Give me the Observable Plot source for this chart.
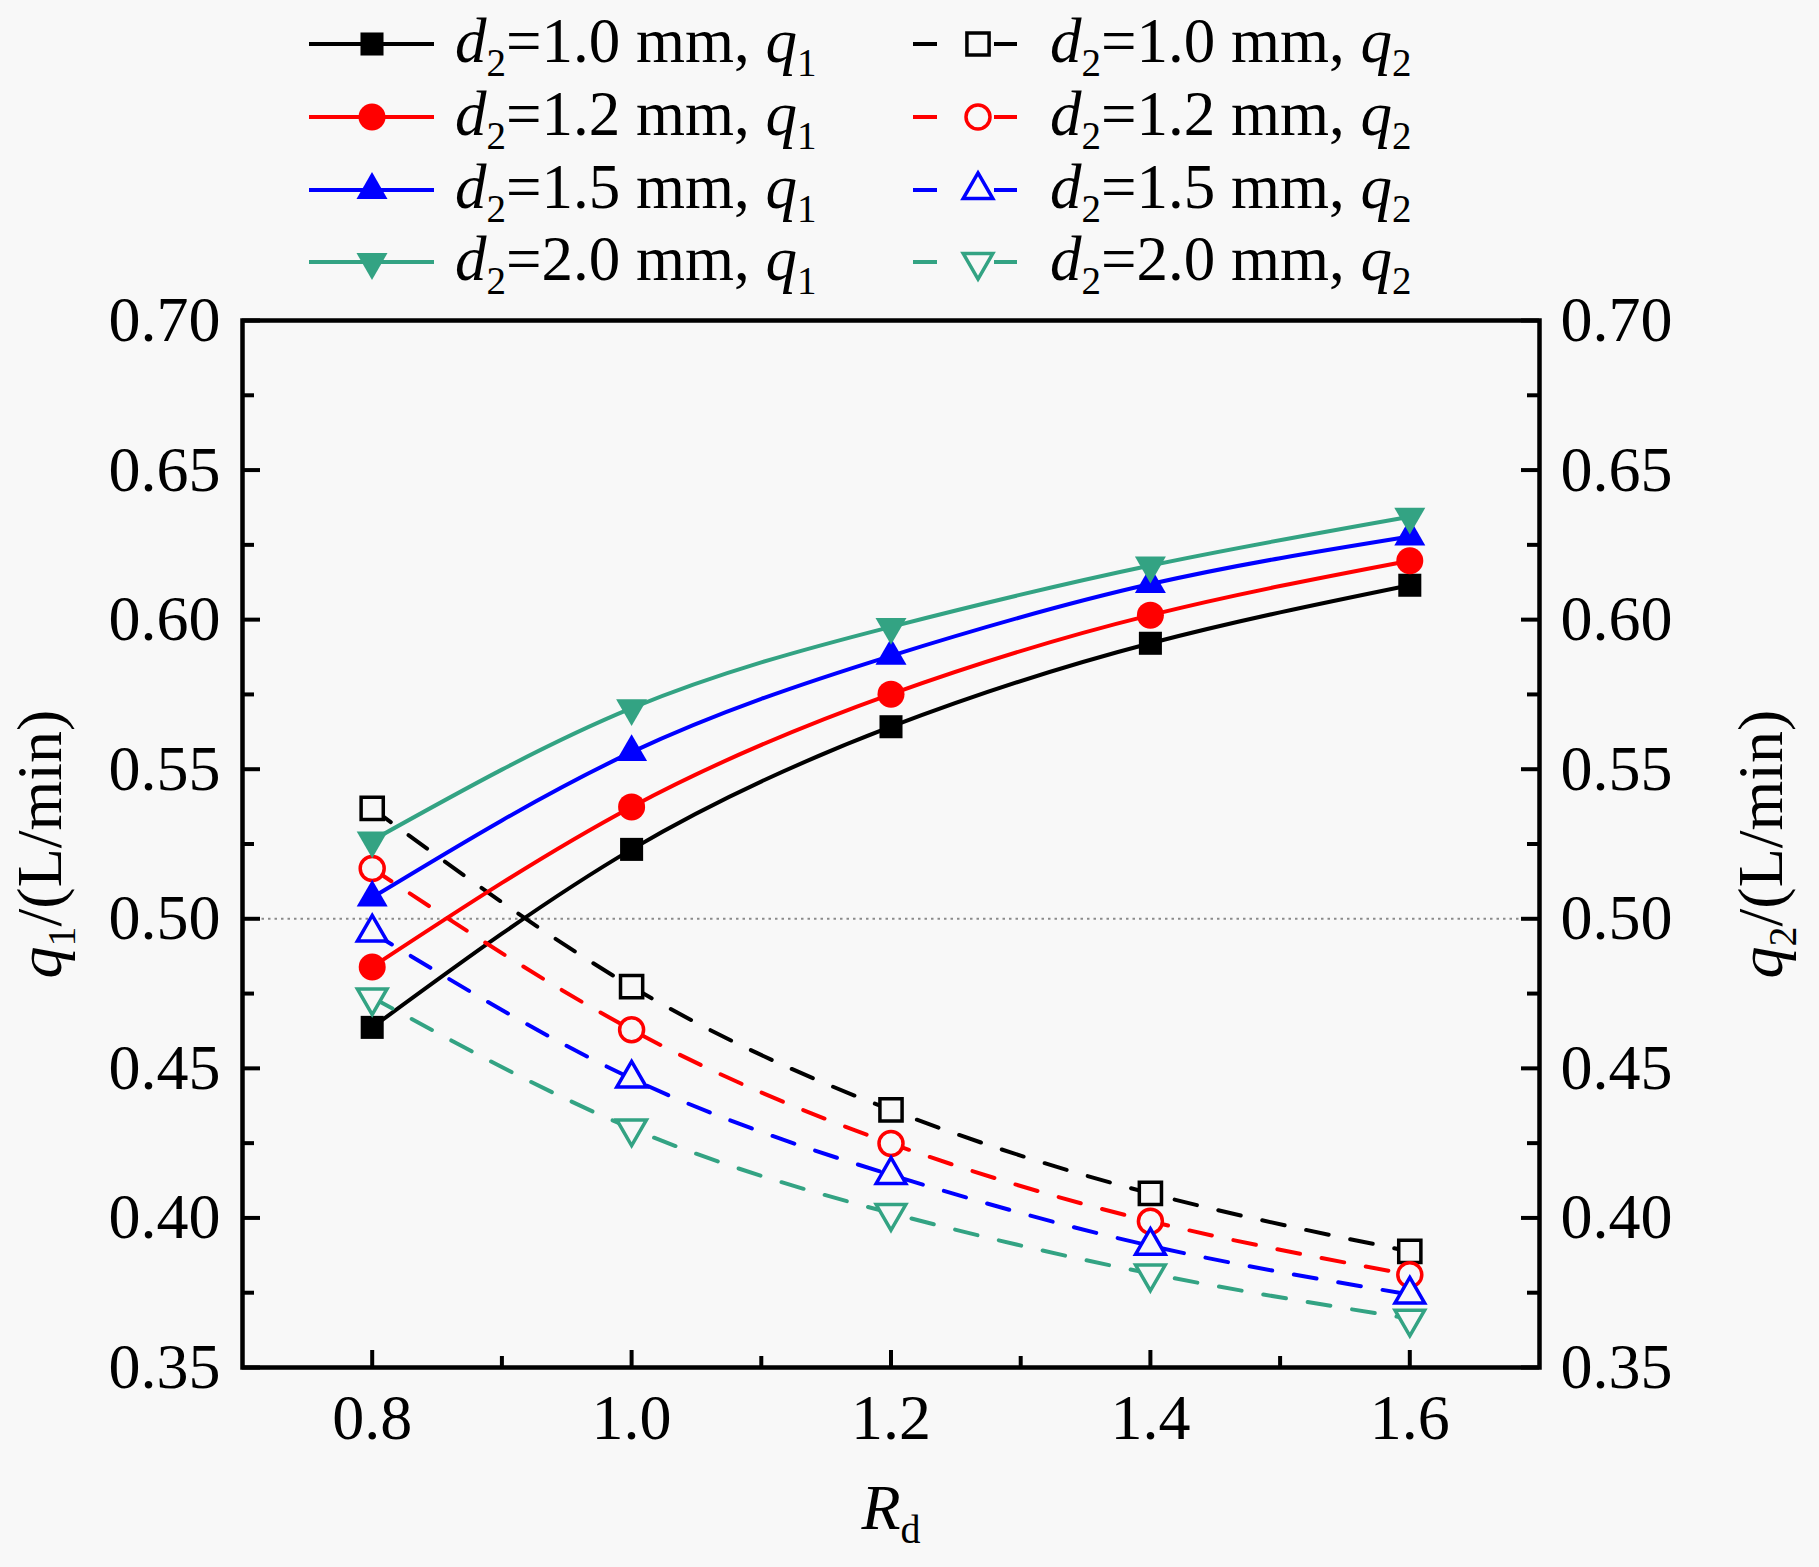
<!DOCTYPE html>
<html><head><meta charset="utf-8">
<script src="https://cdn.jsdelivr.net/npm/d3@7"></script>
<script src="https://cdn.jsdelivr.net/npm/@observablehq/plot@0.6"></script>
<style>
html,body{margin:0;padding:0;background:#f8f8f8;}
#wrap{width:1819px;height:1567px;position:relative;overflow:hidden;font-family:"Liberation Serif","Times New Roman",serif;}
#legend{display:block;overflow:visible;}
#chart svg{display:block;}
text{white-space:pre;}
</style></head><body><div id="wrap"><svg id="legend" width="1819" height="305"></svg><div id="chart"></div></div>
<script>
// ---- data ----
const Rd = [0.8, 1.0, 1.2, 1.4, 1.6];
const d2Labels = ["1.0", "1.2", "1.5", "2.0"];
const q1_d10 = [0.4637, 0.5232, 0.5642, 0.5921, 0.6115];
const q1_d12 = [0.4839, 0.5374, 0.5751, 0.6015, 0.6197];
const q1_d15 = [0.5071, 0.5557, 0.5879, 0.6119, 0.6278];
const q1_d20 = [0.5262, 0.5704, 0.5976, 0.6181, 0.6344];
const q2_d10 = [0.5369, 0.4773, 0.4361, 0.4082, 0.3888];
const q2_d12 = [0.5168, 0.4629, 0.4249, 0.3989, 0.3810];
const q2_d15 = [0.4954, 0.4466, 0.4144, 0.3907, 0.3744];
const q2_d20 = [0.4737, 0.4299, 0.4016, 0.3814, 0.3663];
const yTicks = [0.35, 0.40, 0.45, 0.50, 0.55, 0.60, 0.65, 0.70];
const yMinor = [0.375, 0.425, 0.475, 0.525, 0.575, 0.625, 0.675];
const xTicks = [0.8, 1.0, 1.2, 1.4, 1.6];
const xMinor = [0.9, 1.1, 1.3, 1.5];
const refLine = [0.50];
const colors = ["#000000", "#ff0000", "#0000ff", "#33a383"];

const q1s = [q1_d10, q1_d12, q1_d15, q1_d20];
const q2s = [q2_d10, q2_d12, q2_d15, q2_d20];
const BG = "#f8f8f8";

const sqrt3 = Math.sqrt(3);
const triangleDown = {draw(ctx, size) {
  const y = -Math.sqrt(size / (sqrt3 * 3));
  ctx.moveTo(0, -y * 2);
  ctx.lineTo(-sqrt3 * y, y);
  ctx.lineTo(sqrt3 * y, y);
  ctx.closePath();
}};
const symbols = ["square", "circle", "triangle", triangleDown];
const d3symbols = [d3.symbolSquare, d3.symbolCircle, d3.symbolTriangle, triangleDown];
const rFilled = [13, 13.5, 11.5, 11.5];
const rOpen = [12.5, 12, 11, 11];

const rows = vals => Rd.map((x, j) => ({Rd: x, q: vals[j]}));

const W = 1819, H = 1262, ML = 242, MR = 280, MT = 15, MB = 200;
const FW = W - ML - MR, FH = H - MT - MB;
const FS = 64;
const LW = 4;

const lineMarks = [], dotMarks = [];
for (let i = 0; i < 4; i++) {
  lineMarks.push(Plot.line(rows(q1s[i]), {x: "Rd", y: "q", stroke: colors[i], strokeWidth: LW, curve: "natural"}));
  lineMarks.push(Plot.line(rows(q2s[i]), {x: "Rd", y: "q", stroke: colors[i], strokeWidth: LW, curve: "natural", strokeDasharray: "23,22"}));
}
for (let i = 0; i < 4; i++) {
  dotMarks.push(Plot.dot(rows(q2s[i]), {x: "Rd", y: "q", symbol: symbols[i], r: rOpen[i], fill: BG, stroke: colors[i], strokeWidth: 3.5}));
  dotMarks.push(Plot.dot(rows(q1s[i]), {x: "Rd", y: "q", symbol: symbols[i], r: rFilled[i], fill: colors[i], stroke: "none"}));
}

const plot = Plot.plot({
  width: W, height: H,
  marginLeft: ML, marginRight: MR, marginTop: MT, marginBottom: MB,
  style: {background: "transparent", fontFamily: "'Liberation Serif','Times New Roman',serif", fontSize: FS + "px", color: "#000", overflow: "visible"},
  x: {domain: [0.7, 1.7]},
  y: {domain: [0.35, 0.70]},
  marks: [
    Plot.ruleY(refLine, {y: d => d, stroke: "#8a8a8a", strokeWidth: 2, strokeDasharray: "2.5,4"}),
    ...lineMarks,
    ...dotMarks,
    Plot.tickY(yTicks, {y: d => d, insetRight: FW - 18, stroke: "#000", strokeWidth: 4}),
    Plot.tickY(yMinor, {y: d => d, insetRight: FW - 12, stroke: "#000", strokeWidth: 4}),
    Plot.tickY(yTicks, {y: d => d, insetLeft: FW - 18, stroke: "#000", strokeWidth: 4}),
    Plot.tickY(yMinor, {y: d => d, insetLeft: FW - 12, stroke: "#000", strokeWidth: 4}),
    Plot.tickX(xTicks, {x: d => d, insetTop: FH - 17, stroke: "#000", strokeWidth: 4}),
    Plot.tickX(xMinor, {x: d => d, insetTop: FH - 11, stroke: "#000", strokeWidth: 4}),
    Plot.axisY({anchor: "left", ticks: yTicks, tickFormat: d3.format(".2f"), tickSize: 0, tickPadding: 22, fontSize: FS, label: null}),
    Plot.axisY({anchor: "right", ticks: yTicks, tickFormat: d3.format(".2f"), tickSize: 0, tickPadding: 21, fontSize: FS, label: null}),
    Plot.axisX({anchor: "bottom", ticks: xTicks, tickFormat: d3.format(".1f"), tickSize: 0, tickPadding: 26, fontSize: FS, label: null}),
    Plot.frame({stroke: "#000", strokeWidth: 4.5}),
    Plot.text(["__Y1__"], {text: d => d, frameAnchor: "left", dx: -202, rotate: -90, fontSize: FS, textAnchor: "middle", lineAnchor: "middle"}),
    Plot.text(["__Y2__"], {text: d => d, frameAnchor: "right", dx: 222, rotate: -90, fontSize: FS, textAnchor: "middle", lineAnchor: "middle"}),
    Plot.text(["__X__"], {text: d => d, frameAnchor: "bottom", dy: 141, fontSize: FS, textAnchor: "middle", lineAnchor: "middle"})
  ]
});
document.getElementById("chart").appendChild(plot);

// rich text with italics and subscripts
const NS = "http://www.w3.org/2000/svg";
function rich(el, parts, fs) {
  el.textContent = "";
  let sub = false;
  const shift = Math.round(fs * 0.22);
  for (const [t, st] of parts) {
    const ts = document.createElementNS(NS, "tspan");
    ts.textContent = t;
    if (st.includes("i")) ts.setAttribute("font-style", "italic");
    if (st.includes("s")) {
      ts.setAttribute("font-size", Math.round(fs * 0.62));
      if (!sub) { ts.setAttribute("dy", shift); sub = true; }
    } else if (sub) { ts.setAttribute("dy", -shift); sub = false; }
    el.appendChild(ts);
  }
}
const labelParts = {
  "__Y1__": [["q", "i"], ["1", "s"], ["/(L/min)", ""]],
  "__Y2__": [["q", "i"], ["2", "s"], ["/(L/min)", ""]],
  "__X__": [["R", "i"], ["d", "s"]]
};
d3.select(plot).selectAll("text").each(function() {
  const p = labelParts[this.textContent];
  if (p) rich(this, p, FS);
});

// legend
const leg = d3.select("#legend");
const rowY = [44, 117, 190, 262];
for (let i = 0; i < 4; i++) {
  const y = rowY[i];
  // column 1 (q1, solid, filled)
  leg.append("line").attr("x1", 309).attr("x2", 434).attr("y1", y).attr("y2", y)
    .attr("stroke", colors[i]).attr("stroke-width", LW);
  leg.append("path").attr("transform", `translate(372,${y})`)
    .attr("d", d3.symbol().type(d3symbols[i]).size(Math.PI * rFilled[i] * rFilled[i])())
    .attr("fill", colors[i]);
  const t1 = leg.append("text").attr("x", 455).attr("y", y + 18)
    .attr("font-size", 63).attr("font-family", "'Liberation Serif','Times New Roman',serif").node();
  rich(t1, [["d", "i"], ["2", "s"], ["=" + d2Labels[i] + " mm, ", ""], ["q", "i"], ["1", "s"]], 63);
  // column 2 (q2, dashed, open)
  leg.append("line").attr("x1", 913).attr("x2", 937).attr("y1", y).attr("y2", y)
    .attr("stroke", colors[i]).attr("stroke-width", LW);
  leg.append("line").attr("x1", 994).attr("x2", 1017).attr("y1", y).attr("y2", y)
    .attr("stroke", colors[i]).attr("stroke-width", LW);
  leg.append("path").attr("transform", `translate(978,${y})`)
    .attr("d", d3.symbol().type(d3symbols[i]).size(Math.PI * rOpen[i] * rOpen[i])())
    .attr("fill", BG).attr("stroke", colors[i]).attr("stroke-width", 3.5);
  const t2 = leg.append("text").attr("x", 1050).attr("y", y + 18)
    .attr("font-size", 63).attr("font-family", "'Liberation Serif','Times New Roman',serif").node();
  rich(t2, [["d", "i"], ["2", "s"], ["=" + d2Labels[i] + " mm, ", ""], ["q", "i"], ["2", "s"]], 63);
}
</script></body></html>
